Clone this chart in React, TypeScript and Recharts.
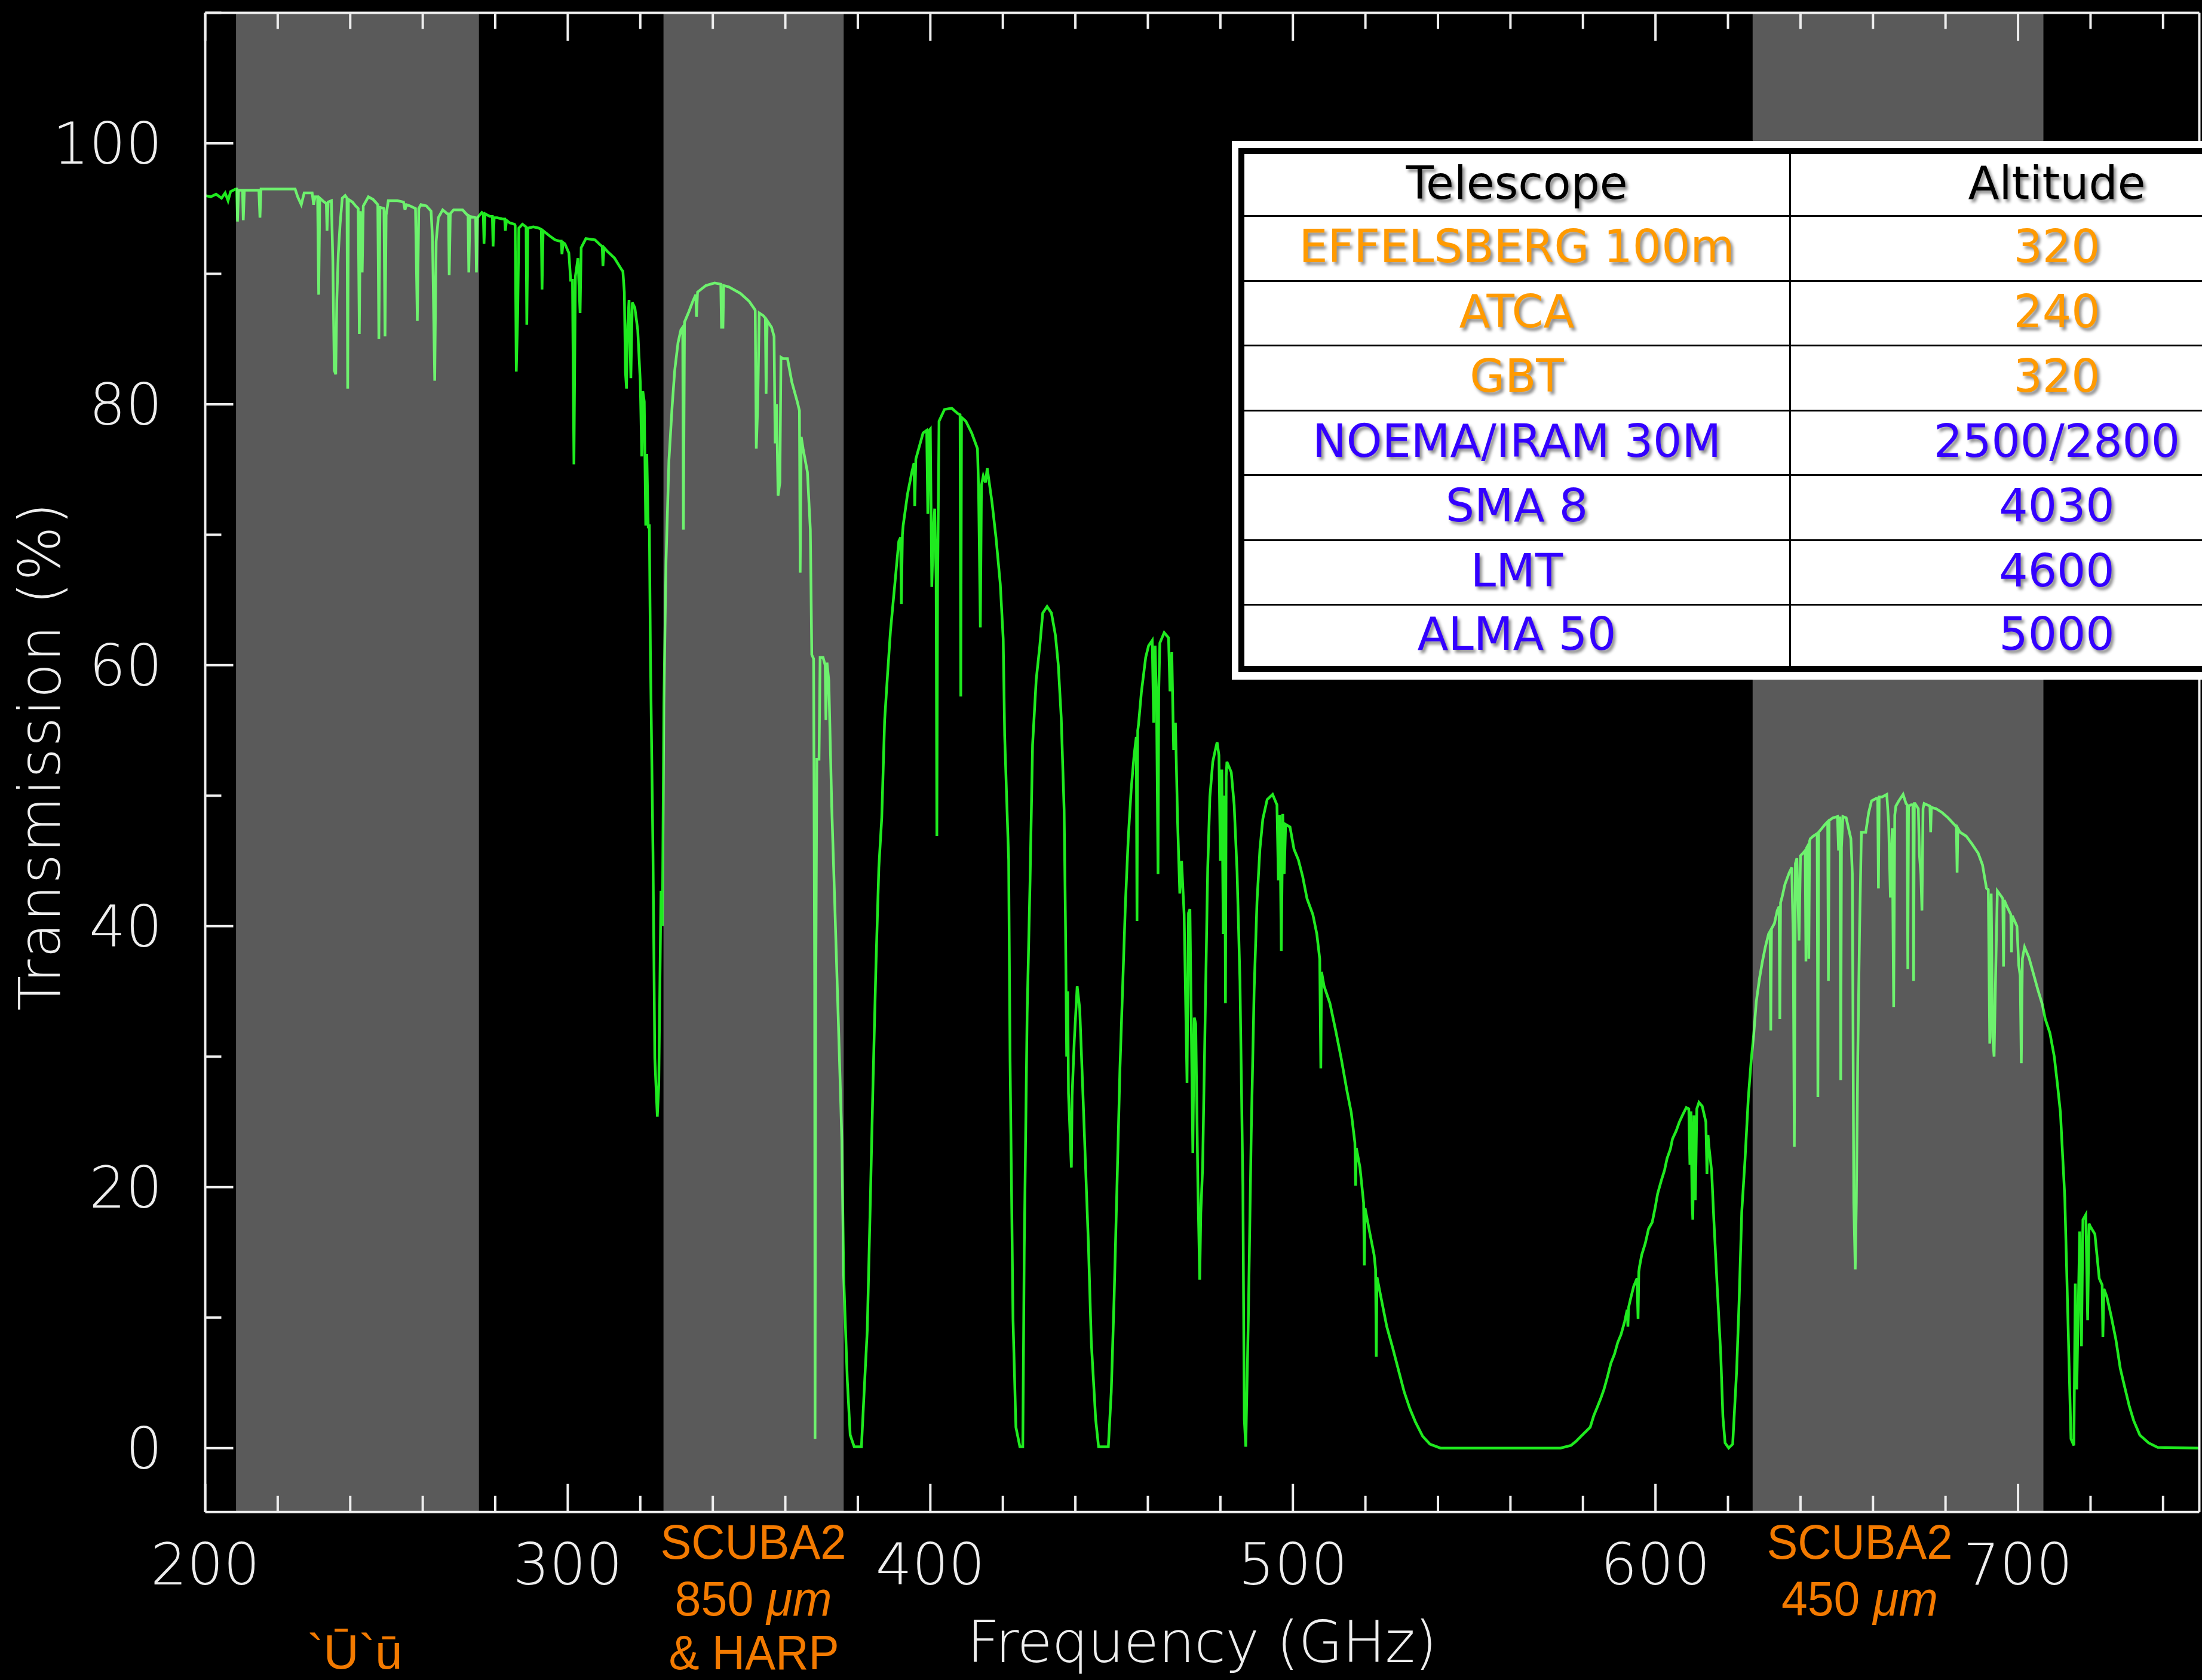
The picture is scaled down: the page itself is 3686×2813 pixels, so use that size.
import React from "react";
import { LineChart, Line, XAxis, YAxis, ReferenceArea } from "recharts";

const W = 3686;
const H = 2813;

// Atmospheric transmission, [frequency (GHz), transmission (%)]
const window200to330: [number, number][] = [
  [200.0, 96.0], [201.5, 95.9], [203.0, 96.1], [204.5, 95.8], [205.5, 96.2], [206.3, 95.6], [207.0, 96.3], [208.4, 96.5],
  [208.7, 96.5], [208.9, 94.0], [209.2, 96.4], [210.3, 96.4], [210.5, 94.1], [210.8, 96.4],
  [214.8, 96.4], [215.1, 94.3], [215.4, 96.5], [224.8, 96.5], [225.5, 95.9], [226.5, 95.3], [227.3, 96.2],
  [229.5, 96.2], [229.9, 95.3], [230.3, 95.9], [231.0, 95.9], [231.3, 88.4], [231.6, 95.8],
  [232.8, 95.5], [233.4, 95.4], [233.6, 93.3], [233.9, 95.5],
  [234.8, 95.6], [235.2, 91.0], [235.6, 82.6], [236.0, 82.3], [236.3, 88.0], [236.7, 91.5], [237.2, 93.8], [237.8, 95.8], [238.6, 96.0],
  [239.1, 95.8], [239.3, 81.2], [239.5, 95.7], [240.6, 95.5], [241.5, 95.2], [242.2, 95.0], [242.5, 85.4], [242.8, 94.8], [243.3, 90.1], [243.6, 95.2],
  [245.0, 95.9], [246.3, 95.7], [247.6, 95.3], [247.9, 85.0], [248.2, 95.1],
  [249.3, 95.0], [249.6, 85.2], [249.9, 94.5], [250.5, 95.6], [253.0, 95.6], [254.7, 95.5], [255.1, 94.9], [255.5, 95.3], [256.5, 95.2],
  [258.0, 95.0], [258.5, 86.4], [258.9, 95.0], [259.5, 95.3], [261.0, 95.2],
  [262.3, 94.8], [262.7, 92.6], [263.3, 81.8], [263.7, 92.5], [264.3, 94.3],
  [265.5, 94.9], [266.8, 94.6], [267.1, 94.6], [267.3, 89.9], [267.6, 94.6],
  [268.5, 94.9], [271.0, 94.9], [272.3, 94.5], [272.5, 94.5], [272.7, 90.1], [273.0, 94.4],
  [274.6, 94.3], [274.8, 90.1], [275.1, 94.3], [276.3, 94.7], [276.7, 94.6], [276.9, 92.3], [277.2, 94.6],
  [278.5, 94.4], [279.2, 94.4], [279.4, 92.1], [279.7, 94.3], [280.5, 94.3], [282.0, 94.2], [282.6, 94.2], [282.8, 93.3], [283.1, 94.1],
  [284.0, 93.9], [285.3, 93.8], [285.5, 93.7], [285.8, 82.5], [286.2, 87.0], [286.5, 93.5],
  [287.5, 93.8], [288.5, 93.6], [288.7, 86.1], [289.0, 93.5], [290.5, 93.6], [292.0, 93.5], [292.7, 93.4], [292.9, 88.8], [293.2, 93.3],
  [295.0, 92.9], [296.5, 92.6], [297.8, 92.5], [298.2, 92.5], [298.4, 91.5], [298.7, 92.4], [299.2, 92.3],
  [300.3, 91.6], [300.8, 89.5], [301.3, 89.5], [301.7, 75.4], [302.1, 89.8], [302.8, 91.2], [303.4, 87.0], [303.7, 92.0],
  [305.0, 92.7], [307.5, 92.6], [309.0, 92.2], [309.5, 92.1], [309.7, 90.6], [310.0, 92.0],
  [311.0, 91.7], [312.9, 91.2], [314.0, 90.7], [314.9, 90.3], [315.2, 90.2], [315.6, 88.6], [315.9, 82.5], [316.2, 81.2],
  [316.5, 86.0], [316.9, 88.0], [317.4, 82.0], [317.8, 87.8], [318.5, 87.4], [319.3, 85.7], [320.0, 81.7], [320.4, 76.0],
  [320.7, 81.0], [321.1, 80.2], [321.5, 70.7], [321.8, 76.2], [322.2, 70.5], [322.5, 70.8], [322.8, 60.8], [323.5, 45.7],
  [324.0, 29.9], [324.7, 25.4], [325.1, 27.8], [325.7, 42.7], [326.1, 40.0], [326.5, 57.0], [327.1, 68.0], [327.9, 75.7],
  [328.8, 79.9], [329.5, 82.6],
];

const window330to425: [number, number][] = [
  [330.4, 84.7], [331.2, 85.7], [331.7, 85.9], [331.9, 70.4], [332.2, 86.3], [333.4, 87.1], [334.5, 87.9], [335.3, 88.4],
  [335.5, 86.7], [335.8, 88.6], [338.1, 89.1], [340.5, 89.3], [342.2, 89.2], [342.4, 85.9], [342.8, 85.9], [343.0, 89.1],
  [344.4, 89.0], [347.6, 88.5], [350.0, 87.9], [351.5, 87.3], [351.7, 87.2], [352.0, 76.6], [352.4, 80.0], [352.8, 87.0],
  [353.9, 86.8], [354.5, 86.6], [354.7, 80.8], [355.0, 86.4], [356.2, 85.9], [356.9, 85.2], [357.2, 77.0], [357.6, 80.0],
  [358.0, 73.0], [358.5, 74.0], [358.8, 83.6], [359.4, 83.5], [360.6, 83.5], [361.8, 81.7], [363.3, 80.2], [363.9, 79.5],
  [364.1, 67.1], [364.4, 77.5], [364.9, 76.6], [366.1, 74.8], [366.9, 70.4], [367.3, 60.8], [367.8, 60.5], [368.1, 35.5],
  [368.2, 0.7], [368.4, 35.0], [368.7, 52.8], [369.3, 52.8], [369.6, 60.6], [370.4, 60.6], [371.0, 60.0], [371.2, 55.8],
  [371.5, 60.2], [372.0, 58.8], [372.8, 49.2], [373.6, 42.1], [374.8, 31.1], [375.6, 23.6], [376.1, 13.2], [377.1, 5.2],
  [377.9, 1.0], [379.0, 0.1], [381.0, 0.1], [381.9, 5.2], [382.6, 9.0], [383.4, 18.3], [384.2, 28.1], [385.0, 37.0],
  [385.8, 44.5], [386.6, 48.3], [387.4, 55.8], [388.2, 59.3], [389.0, 62.6], [389.7, 64.7], [390.5, 67.1], [391.3, 69.5],
  [391.8, 69.8], [392.0, 64.7], [392.3, 70.0], [392.5, 70.7], [393.7, 73.1], [394.9, 74.8], [395.5, 75.5], [395.7, 72.2],
  [396.0, 75.8], [396.8, 76.6], [398.0, 77.8], [399.0, 78.0], [399.3, 71.6], [399.7, 78.0], [400.0, 78.1], [400.4, 66.0],
  [400.8, 70.0], [401.2, 72.0], [401.6, 66.5], [401.8, 46.9], [402.0, 65.9], [402.4, 78.7], [403.9, 79.6], [405.9, 79.7],
  [407.5, 79.3], [408.2, 79.2], [408.4, 57.6], [408.6, 79.0], [409.8, 78.7], [411.4, 77.8], [413.0, 76.6], [413.3, 73.6],
  [413.8, 62.9], [414.1, 73.8], [414.6, 74.5], [415.2, 74.0], [415.7, 75.1], [417.0, 72.5], [418.1, 69.8], [419.3, 66.2],
  [420.1, 62.0], [420.5, 54.6], [421.6, 45.1], [422.0, 29.6], [422.8, 9.9], [423.6, 1.6], [424.7, 0.1],
];

const window425to540: [number, number][] = [
  [425.5, 0.1], [425.9, 15.2], [426.7, 33.3], [427.5, 43.4], [428.2, 53.9], [429.2, 58.9], [430.2, 61.5], [431.0, 64.0],
  [432.2, 64.5], [433.4, 64.0], [434.5, 62.3], [435.3, 60.0], [436.1, 56.0], [436.9, 48.9], [437.3, 39.6], [437.6, 30.0],
  [437.9, 35.0], [438.1, 27.2], [438.9, 21.5], [439.1, 27.0], [439.7, 31.2], [440.5, 35.4], [441.2, 33.7], [442.0, 27.8],
  [442.8, 21.7], [443.6, 15.6], [444.4, 8.1], [445.6, 2.2], [446.4, 0.1], [449.1, 0.1], [449.9, 4.3], [450.7, 11.6],
  [451.5, 20.3], [452.3, 29.1], [453.1, 35.8], [453.8, 41.7], [454.6, 46.8], [455.4, 50.5], [456.2, 53.1], [456.8, 54.5],
  [457.0, 40.4], [457.2, 55.0], [457.4, 55.4], [458.2, 57.9], [459.4, 60.6], [460.2, 61.5], [461.2, 61.9], [461.6, 55.6],
  [462.0, 61.5], [462.4, 57.0], [462.8, 44.0], [463.0, 58.0], [463.3, 61.7], [464.5, 62.5], [465.7, 62.1], [466.1, 58.0],
  [466.6, 61.0], [467.1, 53.5], [467.6, 55.6], [468.2, 48.0], [468.8, 42.5], [469.3, 45.0], [470.0, 40.9], [470.8, 28.0],
  [471.2, 41.0], [471.6, 41.3], [472.4, 22.6], [472.8, 33.0], [473.2, 32.5], [473.8, 20.0], [474.3, 12.9], [474.6, 18.0],
  [475.1, 21.5], [475.9, 34.6], [476.5, 44.4], [477.1, 49.9], [477.9, 52.6], [478.6, 53.5], [479.1, 54.1], [479.6, 53.1],
  [480.0, 45.0], [480.4, 52.0], [480.8, 39.4], [481.2, 50.0], [481.4, 34.1], [481.6, 51.5], [481.8, 52.6], [483.0, 51.8],
  [483.8, 49.3], [484.6, 44.2], [485.4, 35.8], [486.2, 20.1], [486.6, 2.2], [487.0, 0.1], [487.7, 9.8], [488.5, 24.0],
  [489.3, 35.0], [490.1, 41.9], [490.9, 45.9], [491.7, 48.2], [492.9, 49.7], [494.4, 50.1], [495.6, 49.3], [496.0, 43.5],
  [496.4, 48.5], [496.8, 38.1], [497.2, 48.6], [497.6, 44.0], [498.0, 47.8], [499.2, 47.6], [500.3, 45.9], [501.5, 45.1],
  [502.7, 43.8], [503.9, 42.1], [505.5, 40.9], [506.6, 39.4], [507.4, 37.5], [507.7, 29.1], [507.9, 36.5], [508.6, 35.4],
  [510.2, 34.1], [511.8, 32.0], [513.3, 29.9], [514.9, 27.4], [516.1, 25.7], [517.1, 23.4], [517.3, 20.1], [517.5, 23.0],
  [518.5, 21.5], [519.5, 18.8], [519.7, 14.0], [519.9, 18.4], [521.2, 16.5], [522.4, 14.8], [522.8, 13.7], [523.0, 7.0],
  [523.2, 13.1], [524.4, 11.4], [525.9, 9.3], [527.5, 7.7], [529.1, 6.0], [530.7, 4.3], [532.3, 3.0], [533.8, 2.0],
  [535.8, 0.9], [537.8, 0.3],
];

const window540to626: [number, number][] = [
  [540.7, 0.0], [573.8, 0.0], [576.7, 0.2], [578.0, 0.5], [579.8, 1.0], [582.0, 1.6], [583.0, 2.5], [583.9, 3.1],
  [584.9, 3.8], [585.8, 4.5], [586.8, 5.5], [587.7, 6.5], [588.7, 7.2], [589.6, 8.1], [590.5, 8.7], [591.5, 9.7],
  [592.2, 10.6], [592.4, 9.3], [592.6, 10.8], [593.1, 11.4], [594.0, 12.4], [594.9, 13.0], [595.2, 9.9], [595.4, 13.5],
  [595.6, 13.9], [596.2, 14.8], [597.2, 15.7], [598.1, 16.8], [599.1, 17.3], [599.9, 18.4], [600.6, 19.5], [601.6, 20.5],
  [602.5, 21.3], [603.2, 22.2], [604.1, 22.9], [604.7, 23.7], [605.7, 24.3], [606.6, 25.0], [607.6, 25.6], [608.5, 26.1],
  [609.2, 26.0], [609.5, 21.7], [609.8, 25.8], [610.1, 18.9], [610.3, 17.5], [610.6, 25.5], [611.0, 19.0], [611.4, 26.0],
  [612.0, 26.5], [612.9, 26.2], [613.9, 25.0], [614.2, 21.0], [614.5, 24.0], [614.8, 23.0], [615.5, 21.2], [616.1, 17.5],
  [617.0, 12.5], [618.0, 7.2], [618.6, 2.4], [619.2, 0.4], [620.2, 0.0], [621.3, 0.3], [622.4, 6.0], [623.1, 11.5],
  [623.8, 18.1], [624.7, 22.1], [625.6, 26.8],
];

const window626to750: [number, number][] = [
  [626.4, 29.7], [627.1, 31.7], [627.8, 34.2], [628.7, 36.0], [629.5, 37.3], [630.3, 38.4], [631.2, 39.4], [631.6, 39.6],
  [631.8, 32.0], [632.0, 39.8], [632.8, 40.2], [633.6, 41.2], [634.1, 41.5], [634.3, 32.9], [634.5, 41.8], [634.9, 42.2],
  [635.7, 43.2], [636.9, 44.1], [637.6, 44.5], [638.0, 39.0], [638.3, 23.1], [638.6, 44.8], [639.0, 45.2], [639.6, 38.9],
  [640.0, 45.4], [640.7, 45.6], [641.3, 45.8], [641.5, 37.3], [641.7, 46.0], [642.1, 46.2], [642.3, 37.5], [642.5, 46.5],
  [642.7, 46.7], [643.5, 46.9], [644.6, 47.1], [644.8, 26.9], [645.0, 47.2], [645.6, 47.4], [646.8, 47.8], [647.5, 48.0],
  [647.7, 35.8], [647.9, 48.1], [648.9, 48.3], [650.2, 48.4], [650.5, 45.8], [650.9, 48.4], [651.1, 28.2], [651.3, 46.0],
  [651.7, 48.4], [652.6, 48.3], [653.9, 46.7], [654.3, 44.0], [654.7, 18.8], [655.1, 13.7], [655.4, 18.8], [655.8, 30.0],
  [656.3, 39.8], [656.8, 47.2], [658.0, 47.2], [658.8, 48.7], [659.6, 49.6], [660.9, 49.8], [661.3, 49.8], [661.5, 42.9],
  [661.7, 49.9], [662.5, 49.9], [663.8, 50.1], [664.3, 48.0], [664.8, 42.2], [665.3, 47.5], [665.7, 33.8], [666.0, 48.5],
  [666.3, 49.2], [667.1, 49.6], [668.3, 50.1], [669.1, 49.4], [669.4, 49.3], [669.6, 36.7], [669.8, 49.2], [670.5, 49.3],
  [671.0, 49.3], [671.2, 35.8], [671.4, 49.4], [671.6, 49.4], [672.5, 49.0], [672.8, 45.5], [673.2, 44.0], [673.5, 41.2],
  [673.8, 49.0], [674.1, 49.4], [675.7, 49.2], [675.9, 47.2], [676.1, 49.1], [677.4, 49.0], [679.1, 48.7], [680.7, 48.3],
  [682.4, 47.8], [683.0, 47.6], [683.2, 44.1], [683.4, 47.5], [684.0, 47.2], [685.7, 46.9], [687.3, 46.3], [689.0, 45.6],
  [690.2, 44.7], [691.3, 42.9], [691.8, 42.8], [692.2, 31.0], [692.6, 42.5], [693.0, 31.5], [693.4, 30.0], [693.8, 36.0],
  [694.3, 42.7], [695.6, 42.2], [695.8, 42.1], [696.0, 36.9], [696.2, 42.0], [696.8, 41.6], [698.0, 40.9], [698.2, 38.0],
  [698.4, 40.8], [699.7, 40.0], [700.2, 37.0], [700.6, 36.2], [700.9, 29.5], [701.2, 37.5], [701.8, 38.4], [703.0, 37.6],
  [704.2, 36.4], [705.5, 35.1], [706.7, 34.0], [707.5, 32.9], [708.8, 31.8], [710.0, 30.0], [710.9, 27.8], [711.7, 25.7],
  [712.1, 23.5], [712.9, 19.2], [713.7, 10.6], [714.6, 0.7], [715.4, 0.2], [715.8, 12.6], [716.2, 4.5], [717.0, 16.6],
  [717.5, 7.8], [717.9, 17.5], [718.7, 17.9], [719.2, 9.8], [719.6, 17.2], [719.9, 17.0], [721.2, 16.4], [722.4, 13.0],
  [723.2, 12.5], [723.4, 8.5], [723.7, 12.2], [724.5, 11.6], [725.7, 10.1], [727.0, 8.3], [728.2, 6.1], [729.4, 4.7],
  [730.7, 3.2], [731.9, 2.1], [733.6, 1.0], [736.0, 0.4], [738.5, 0.05], [750.0, 0.0],
];

// receiver coverage shaded on the plot, GHz
const receiverBands = [
  { from: 208.5, to: 275.5 },
  { from: 326.4, to: 376.1 },
  { from: 626.8, to: 707.0 },
];

const freqTicks = [200, 220, 240, 260, 280, 300, 320, 340, 360, 380, 400, 420, 440, 460, 480, 500, 520, 540, 560, 580, 600, 620, 640, 660, 680, 700, 720, 740];
const pctTicks = [0, 10, 20, 30, 40, 50, 60, 70, 80, 90, 100, 110];

const telescopes = ["EFFELSBERG 100m", "ATCA", "GBT", "NOEMA/IRAM 30M", "SMA 8", "LMT", "ALMA 50"];
const altitudes = ["320", "240", "320", "2500/2800", "4030", "4600", "5000"];

const spectrum = [
  ...window200to330,
  ...window330to425,
  ...window425to540,
  ...window540to626,
  ...window626to750,
].map(([f, t]) => ({ f, t }));

const AXIS = "#eeeeee";
const GREEN = "#1fea1f";
const LABEL_ORANGE = "#f37a00";
const TABLE_ORANGE = "#ff9a00";
const TABLE_BLUE = "#3300ff";

const strokeFont: React.CSSProperties = {
  fontFamily: '"DejaVu Sans", sans-serif',
  fontWeight: 200,
  fontSize: 96,
  fill: AXIS,
};

const bandFont: React.CSSProperties = {
  fontFamily: '"Liberation Sans", Arial, sans-serif',
  fontSize: 82,
  fill: LABEL_ORANGE,
};

const MAJOR = 47;
const MINOR = 27;

function BottomTick(props: any) {
  const { x, y, payload } = props;
  const major = payload.value % 100 === 0;
  return (
    <g>
      <line x1={x} x2={x} y1={y} y2={y - (major ? MAJOR : MINOR)} stroke={AXIS} strokeWidth={4} />
      {major && (
        <text x={x} y={y + 121} textAnchor="middle" style={strokeFont}>
          {payload.value}
        </text>
      )}
    </g>
  );
}

function TopTick(props: any) {
  const { x, y, payload } = props;
  const major = payload.value % 100 === 0;
  return <line x1={x} x2={x} y1={y} y2={y + (major ? MAJOR : MINOR)} stroke={AXIS} strokeWidth={4} />;
}

function LeftTick(props: any) {
  const { x, y, payload } = props;
  const major = payload.value % 20 === 0;
  return (
    <g>
      <line x1={x} x2={x + (major ? MAJOR : MINOR)} y1={y} y2={y} stroke={AXIS} strokeWidth={4} />
      {major && payload.value <= 100 && (
        <text x={x - 72} y={y + 34} textAnchor="end" style={strokeFont}>
          {payload.value}
        </text>
      )}
    </g>
  );
}

function RightTick(props: any) {
  const { x, y, payload } = props;
  const major = payload.value % 20 === 0;
  return <line x1={x} x2={x - (major ? MAJOR : MINOR)} y1={y} y2={y} stroke={AXIS} strokeWidth={4} />;
}

function AltitudeTable() {
  const rowH = [102, 105.5, 105.5, 105.5, 105.5, 105.5, 105.5, 100.5];
  const rows = [["Telescope", "Altitude"], ...telescopes.map((t, i) => [t, altitudes[i]])];
  return (
    <div
      style={{
        position: "absolute",
        left: 2062,
        top: 236,
        width: 1900,
        height: 902,
        background: "#fff",
      }}
    >
      <div
        style={{
          position: "absolute",
          left: 11,
          top: 12,
          width: 1860,
          border: "10px solid #000",
          background: "#fff",
        }}
      >
        {rows.map((r, i) => {
          const color = i === 0 ? "#000" : i <= 3 ? TABLE_ORANGE : TABLE_BLUE;
          const cell: React.CSSProperties = {
            display: "flex",
            alignItems: "center",
            justifyContent: "center",
            height: rowH[i],
            paddingBottom: 6,
            boxSizing: "border-box",
            fontFamily: '"DejaVu Sans", Verdana, sans-serif',
            fontSize: 76,
            color,
            textShadow: "4px 5px 5px rgba(0,0,0,0.45)",
            whiteSpace: "nowrap",
          };
          return (
            <div key={i} style={{ display: "flex", borderTop: i === 0 ? "none" : "3px solid #000" }}>
              <div style={{ ...cell, width: 915, borderRight: "3px solid #000" }}>{r[0]}</div>
              <div style={{ ...cell, width: 890 }}>{r[1]}</div>
            </div>
          );
        })}
      </div>
    </div>
  );
}

function Annotations() {
  return (
    <svg
      width={W}
      height={H}
      style={{ position: "absolute", left: 0, top: 0, pointerEvents: "none" }}
    >
      <text
        transform="translate(100, 1267) rotate(-90)"
        textAnchor="middle"
        textLength={851}
        lengthAdjust="spacing"
        style={strokeFont}
      >
        Transmission (%)
      </text>
      <text x={2012} y={2783} textAnchor="middle" textLength={787} lengthAdjust="spacing" style={strokeFont}>
        Frequency (GHz)
      </text>

      <text x={594} y={2794} textAnchor="middle" style={bandFont}>
        `Ū`ū
      </text>

      <text x={1261} y={2610} textAnchor="middle" textLength={311} lengthAdjust="spacingAndGlyphs" style={bandFont}>
        SCUBA2
      </text>
      <text x={1261} y={2705} textAnchor="middle" textLength={263} lengthAdjust="spacingAndGlyphs" style={bandFont}>
        <tspan>850 </tspan>
        <tspan fontStyle="italic">μm</tspan>
      </text>
      <text x={1262} y={2795} textAnchor="middle" textLength={285} lengthAdjust="spacingAndGlyphs" style={bandFont}>
        &amp; HARP
      </text>

      <text x={3113} y={2610} textAnchor="middle" textLength={311} lengthAdjust="spacingAndGlyphs" style={bandFont}>
        SCUBA2
      </text>
      <text x={3113} y={2705} textAnchor="middle" textLength={262} lengthAdjust="spacingAndGlyphs" style={bandFont}>
        <tspan>450 </tspan>
        <tspan fontStyle="italic">μm</tspan>
      </text>
    </svg>
  );
}

export default function App() {
  return (
    <div
      style={{
        position: "fixed",
        left: 0,
        top: 0,
        width: W,
        height: H,
        background: "#000",
        overflow: "hidden",
      }}
    >
      <LineChart
        width={W}
        height={H}
        data={spectrum}
        margin={{ top: 20.5, right: 3.5, bottom: 280.3, left: 342.5 }}
      >
        <XAxis
          xAxisId="bottom"
          dataKey="f"
          type="number"
          domain={[200, 750]}
          ticks={freqTicks}
          interval={0}
          height={1}
          tickSize={0}
          tickMargin={0}
          tickLine={false}
          axisLine={{ stroke: AXIS, strokeWidth: 4 }}
          tick={(p: any) => <BottomTick {...p} />}
        />
        <XAxis
          xAxisId="top"
          orientation="top"
          dataKey="f"
          type="number"
          domain={[200, 750]}
          ticks={freqTicks}
          interval={0}
          height={1}
          tickSize={0}
          tickMargin={0}
          tickLine={false}
          axisLine={{ stroke: AXIS, strokeWidth: 4 }}
          tick={(p: any) => <TopTick {...p} />}
        />
        <YAxis
          yAxisId="left"
          type="number"
          domain={[-4.9, 110]}
          ticks={pctTicks}
          interval={0}
          width={1}
          tickSize={0}
          tickMargin={0}
          tickLine={false}
          axisLine={{ stroke: AXIS, strokeWidth: 4 }}
          tick={(p: any) => <LeftTick {...p} />}
        />
        <YAxis
          yAxisId="right"
          orientation="right"
          type="number"
          domain={[-4.9, 110]}
          ticks={pctTicks}
          interval={0}
          width={1}
          tickSize={0}
          tickMargin={0}
          tickLine={false}
          axisLine={{ stroke: AXIS, strokeWidth: 4 }}
          tick={(p: any) => <RightTick {...p} />}
        />
        <Line
          xAxisId="bottom"
          yAxisId="left"
          dataKey="t"
          type="linear"
          stroke={GREEN}
          strokeWidth={4.5}
          dot={false}
          activeDot={false}
          isAnimationActive={false}
        />
        {receiverBands.map((b) => (
          <ReferenceArea
            key={b.from}
            xAxisId="bottom"
            yAxisId="left"
            x1={b.from}
            x2={b.to}
            fill="#ffffff"
            fillOpacity={0.353}
            stroke="none"
            zIndex={450}
          />
        ))}
      </LineChart>
      <AltitudeTable />
      <Annotations />
    </div>
  );
}
